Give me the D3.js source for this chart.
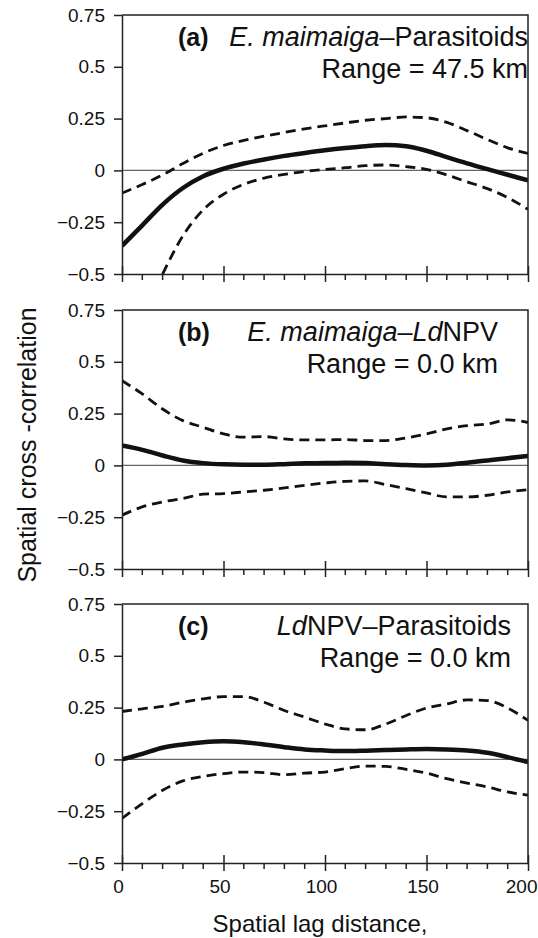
<!DOCTYPE html>
<html>
<head>
<meta charset="utf-8">
<script src="https://d3js.org/d3.v7.min.js"></script>
<style>
    body { margin: 0; background: #fff; }
    text { font-family: "Liberation Sans", Arial, sans-serif; fill: #111; }
</style>
</head>
<body>
<script>
// lag distances, km
let lags = [0, 10, 20, 30, 40, 50, 60, 70, 80, 90, 100, 110, 120, 130, 140, 150, 160, 170, 180, 190, 200]
let yTicks = [0.75, 0.5, 0.25, 0, -0.25, -0.5]
let yTickLabels = ["0.75", "0.5", "0.25", "0", "\u22120.25", "\u22120.5"]
let xTicks = [0, 50, 100, 150, 200]

// (a) E. maimaiga - Parasitoids
let aMid = [-0.364, -0.265, -0.165, -0.085, -0.028, 0.008, 0.033, 0.053, 0.07, 0.084, 0.097, 0.108, 0.117, 0.122, 0.117, 0.095, 0.064, 0.034, 0.006, -0.021, -0.048]
let aUp = [-0.11, -0.068, -0.022, 0.033, 0.083, 0.12, 0.145, 0.165, 0.183, 0.2, 0.215, 0.229, 0.242, 0.25, 0.258, 0.254, 0.232, 0.192, 0.149, 0.109, 0.082]
let aLow = [null, null, -0.5, -0.316, -0.19, -0.115, -0.067, -0.037, -0.019, -0.005, 0.005, 0.013, 0.023, 0.026, 0.018, 0.005, -0.022, -0.055, -0.088, -0.131, -0.188]

// (b) E. maimaiga - LdNPV
let bMid = [0.096, 0.075, 0.048, 0.024, 0.011, 0.005, 0.003, 0.003, 0.006, 0.01, 0.011, 0.013, 0.011, 0.006, 0.002, 0, 0.003, 0.013, 0.024, 0.035, 0.045]
let bUp = [0.409, 0.345, 0.272, 0.216, 0.184, 0.152, 0.136, 0.139, 0.128, 0.123, 0.123, 0.125, 0.12, 0.12, 0.133, 0.152, 0.176, 0.192, 0.2, 0.22, 0.207]
let bLow = [-0.24, -0.2, -0.176, -0.16, -0.139, -0.136, -0.128, -0.12, -0.109, -0.096, -0.085, -0.077, -0.075, -0.093, -0.112, -0.133, -0.152, -0.152, -0.144, -0.128, -0.117]

// (c) LdNPV - Parasitoids
let cMid = [0, 0.027, 0.056, 0.072, 0.083, 0.088, 0.083, 0.072, 0.059, 0.048, 0.043, 0.04, 0.042, 0.045, 0.048, 0.05, 0.048, 0.043, 0.032, 0.011, -0.013]
let cUp = [0.231, 0.244, 0.256, 0.276, 0.292, 0.303, 0.303, 0.276, 0.236, 0.204, 0.171, 0.147, 0.143, 0.171, 0.212, 0.248, 0.268, 0.287, 0.284, 0.248, 0.188]
let cLow = [-0.285, -0.213, -0.149, -0.104, -0.082, -0.069, -0.061, -0.064, -0.074, -0.066, -0.061, -0.045, -0.032, -0.034, -0.048, -0.066, -0.093, -0.114, -0.133, -0.157, -0.173]

let panels = [
    {letter: "(a)", title: [["E. maimaiga", true], ["\u2013Parasitoids", false]], range: "Range = 47.5 km",
        mid: aMid, up: aUp, low: aLow, top: 15, textRight: 528},
    {letter: "(b)", title: [["E. maimaiga\u2013Ld", true], ["NPV", false]], range: "Range = 0.0 km",
        mid: bMid, up: bUp, low: bLow, top: 310, textRight: 498},
    {letter: "(c)", title: [["Ld", true], ["NPV\u2013Parasitoids", false]], range: "Range = 0.0 km",
        mid: cMid, up: cUp, low: cLow, top: 604, textRight: 511}
]

let width = 538
let height = 938
let marginLeft = 122
let marginRight = 10
let panelHeight = 259

let svg = d3.select("body")
    .append("svg")
    .attr("width", width)
    .attr("height", height)

let scaleX = d3.scaleLinear()
    .domain([0, 200])
    .range([marginLeft, width - marginRight])

function drawPanel(p, i) {
    let scaleY = d3.scaleLinear()
        .domain([-0.5, 0.75])
        .range([p.top + panelHeight, p.top])

    let g = svg.append("g")

    // clip so curves stay inside the frame
    g.append("clipPath")
        .attr("id", "clip" + i)
        .append("rect")
        .attr("x", scaleX(0))
        .attr("y", p.top)
        .attr("width", scaleX(200) - scaleX(0))
        .attr("height", panelHeight)

    // zero line
    g.append("line")
        .attr("x1", scaleX(0)).attr("x2", scaleX(200))
        .attr("y1", scaleY(0)).attr("y2", scaleY(0))
        .attr("stroke", "#666")
        .attr("stroke-width", 1.2)

    let line = d3.line()
        .defined(d => d[1] != null)
        .x(d => scaleX(d[0]))
        .y(d => scaleY(d[1]))
        .curve(d3.curveMonotoneX)

    let plot = g.append("g").attr("clip-path", `url(#clip${i})`)
    for (let s of [p.up, p.low]) {
        plot.append("path")
            .attr("d", line(lags.map((x, k) => [x, s[k]])))
            .attr("fill", "none")
            .attr("stroke", "#111")
            .attr("stroke-width", 2.8)
            .attr("stroke-dasharray", "10,6")
    }
    plot.append("path")
        .attr("d", line(lags.map((x, k) => [x, p.mid[k]])))
        .attr("fill", "none")
        .attr("stroke", "#111")
        .attr("stroke-width", 4.5)

    // axes
    let axisY = d3.axisLeft(scaleY)
        .tickValues(yTicks)
        .tickFormat((d, k) => yTickLabels[k])
        .tickSizeInner(8)
        .tickSizeOuter(0)
        .tickPadding(9)
    let gy = g.append("g")
        .attr("transform", `translate(${scaleX(0)}, 0)`)
        .call(axisY)
    gy.selectAll("text").style("font-size", "19px")

    let axisX = d3.axisBottom(scaleX)
        .tickValues(xTicks)
        .tickFormat(i == 2 ? d3.format("d") : "")
        .tickSizeInner(8)
        .tickSizeOuter(0)
        .tickPadding(9)
    let gx = g.append("g")
        .attr("transform", `translate(0, ${p.top + panelHeight})`)
        .call(axisX)
    gx.selectAll(".tick line").attr("y1", -8)
    gx.selectAll("text")
        .style("font-size", "19px")
        .attr("dx", -4)
    // last label sits against the right edge of the page
    gx.selectAll(".tick").filter(d => d == 200).select("text")
        .attr("text-anchor", "end")
        .attr("x", width - 1 - scaleX(200))
        .attr("dx", 0)

    // minor ticks every 10 km
    g.append("g").selectAll("line")
        .data(d3.range(10, 200, 10).filter(d => d % 50 != 0))
        .enter()
        .append("line")
        .attr("x1", d => scaleX(d)).attr("x2", d => scaleX(d))
        .attr("y1", p.top + panelHeight).attr("y2", p.top + panelHeight + 6)
        .attr("stroke", "#222")
        .attr("stroke-width", 1.5)

    g.selectAll(".domain, .tick line").attr("stroke", "#222").attr("stroke-width", 1.5)

    // top and right of frame
    g.append("path")
        .attr("d", `M${scaleX(0)},${p.top}H${scaleX(200)}V${p.top + panelHeight}`)
        .attr("fill", "none")
        .attr("stroke", "#222")
        .attr("stroke-width", 1.5)

    // panel labels
    g.append("text")
        .attr("x", 178)
        .attr("y", p.top + 31)
        .style("font-size", "25px")
        .style("font-weight", "bold")
        .text(p.letter)
    let t = g.append("text")
        .attr("x", p.textRight)
        .attr("y", p.top + 31)
        .attr("text-anchor", "end")
        .style("font-size", "27px")
    for (let part of p.title) {
        t.append("tspan")
            .style("font-style", part[1] ? "italic" : "normal")
            .text(part[0])
    }
    g.append("text")
        .attr("x", p.textRight)
        .attr("y", p.top + 63)
        .attr("text-anchor", "end")
        .style("font-size", "27px")
        .text(p.range)
}

panels.forEach(drawPanel)

// axis titles
svg.append("text")
    .attr("transform", `translate(36, 445) rotate(-90)`)
    .attr("text-anchor", "middle")
    .style("font-size", "25px")
    .text("Spatial cross -correlation")

svg.append("text")
    .attr("x", 320)
    .attr("y", 932)
    .attr("text-anchor", "middle")
    .style("font-size", "24px")
    .text("Spatial lag distance,")
</script>
</body>
</html>
